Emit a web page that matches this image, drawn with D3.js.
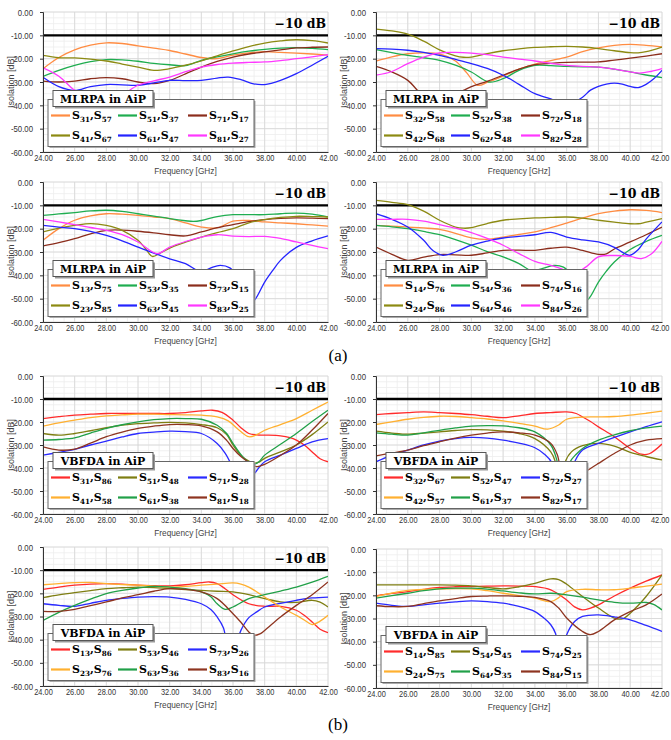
<!DOCTYPE html>
<html><head><meta charset="utf-8">
<script src="https://cdn.jsdelivr.net/npm/d3@7"></script>
<style>body{margin:0;background:#fff}</style>
</head><body><svg id="c" width="671" height="740"></svg>
<script>
// ---------- data ----------
const freqTicks = [24,26,28,30,32,34,36,38,40,42];
const isoTicks = [0,-10,-20,-30,-40,-50,-60];
const limitDb = -10;

const mlrpaColors = ["#ff8c42","#1fad50","#8b2d1c","#8c8a12","#2424ff","#ff38ff"];
const vbfdaColors = ["#ff2b2b","#7e7e12","#2a2aff","#ffb030","#21a048","#8e3420"];

// Panel 1 (MLRPA)
const p1Labels = [["31","57"],["51","37"],["71","17"],["41","67"],["61","47"],["81","27"]];
const p1Orange = [[24,-24.3],[25,-19.5],[26,-16.2],[27,-14.2],[28,-13.2],[29,-13.5],[30,-14.5],[31,-15.5],[32,-16.5],[33,-18],[34,-19.5],[35,-20],[36,-18.5],[37,-17.5],[38,-17],[39,-17.3],[40,-17.6],[41,-18],[42,-18.5]];
const p1Green = [[24,-27.6],[25,-25],[26,-22.9],[27,-21.3],[28,-20.4],[29,-20.5],[30,-21.1],[31,-22],[32,-22.6],[33,-23],[34,-20.7],[35,-19.2],[36,-17.9],[37,-16.8],[38,-16],[39,-15.5],[40,-15.3],[41,-15.6],[42,-16.1]];
const p1Brown = [[24,-29.6],[25,-30],[26,-29.6],[27,-28.6],[28,-28.1],[29,-28.6],[30,-30],[31,-30.7],[32,-29.3],[33,-26.5],[34,-23.6],[35,-21.2],[36,-19.3],[37,-18],[38,-17.1],[39,-16.2],[40,-15.4],[41,-15.1],[42,-15]];
const p1Olive = [[24,-18.6],[25,-19.6],[26,-19.7],[27,-20.2],[28,-21],[29,-22.3],[30,-23.6],[31,-25],[32,-24.3],[33,-22.8],[34,-21],[35,-18.8],[36,-16.7],[37,-14.8],[38,-13.3],[39,-12.4],[40,-11.9],[41,-12.3],[42,-13.3]];
const p1Blue = [[24,-28],[25,-32],[26,-33.6],[27,-32],[28,-31.1],[29,-31.2],[30,-31.4],[31,-30.4],[32,-29.3],[33,-29.4],[34,-29.3],[35,-28.3],[35.7,-27.9],[36.5,-29],[37.3,-30.8],[38,-31.1],[39,-29.3],[40,-26.4],[41,-22.8],[42,-19]];
const p1Pink = [[24,-23.9],[25,-27.5],[26,-33.6],[27,-37.5],[28,-38],[29,-35.5],[30,-31.4],[31,-29.5],[32,-27.9],[33,-25.6],[34,-23.6],[35,-22.5],[36,-21.9],[37,-21.6],[38,-21.4],[39,-20.8],[40,-20],[41,-19.2],[42,-18.3]];

// Panel 2 (MLRPA)
const p2Labels = [["32","58"],["52","38"],["72","18"],["42","68"],["62","48"],["82","28"]];
const p2Orange = [[24,-21],[25,-19.2],[26,-17.9],[27,-17.5],[28,-18],[29,-21],[29.7,-26],[30.4,-31.4],[31,-30.2],[32,-27.5],[33,-24.5],[34,-22.3],[35,-20.8],[36,-19.3],[37,-17],[38,-15.4],[39,-14.3],[40,-13.9],[41,-14.3],[42,-15]];
const p2Green = [[24,-16.1],[25,-17.4],[26,-18.6],[27,-19.6],[28,-20.7],[29,-22.8],[30,-25.7],[31.1,-30],[32,-28.6],[33,-25],[34,-22.9],[35,-23],[36,-23.3],[37,-23.5],[38,-23.6],[39,-24.5],[40,-25.7],[41,-27],[42,-28.1]];
const p2Brown = [[24,-23.3],[25,-25.7],[26,-29.3],[27,-36],[28,-38],[29,-35],[29.5,-33.6],[30,-32],[31,-29.7],[32,-27.1],[33,-24.5],[34,-22.6],[35,-22],[36,-21.6],[37,-21.5],[38,-21.4],[39,-20.6],[40,-19.8],[41,-18.9],[42,-17.9]];
const p2Olive = [[24,-7.3],[25,-8.1],[26,-9.5],[27,-12.5],[28,-16.2],[29,-18.8],[29.5,-19.4],[30,-19.3],[31,-17.8],[32,-16.6],[33,-15.8],[34,-15.2],[35,-14.9],[36,-14.7],[37,-15],[38,-15.7],[39,-16.6],[40,-17.4],[40.5,-17.5],[41,-17],[42,-15]];
const p2Blue = [[24,-15.7],[25,-15.9],[26,-16.4],[27,-17.3],[28,-18.6],[29,-20.3],[30,-22.1],[31,-24.2],[32,-27.1],[33,-31],[34,-35],[35,-37.2],[35.6,-38.8],[36.3,-39],[37,-36.5],[37.5,-33.5],[38,-31.9],[38.5,-30.9],[39,-30.5],[39.5,-30.9],[40,-31.9],[40.5,-32.4],[41,-31],[41.5,-28.5],[42,-25]];
const p2Pink = [[24,-27.1],[25,-25.5],[26,-22.1],[27,-19.3],[28,-17.5],[29,-17.3],[30,-17.6],[31,-18.3],[32,-19.3],[33,-20.2],[34,-21],[35,-22],[36,-22.9],[37,-23.3],[38,-23.6],[39,-24.5],[40,-25.7],[40.6,-26.2],[41.3,-25.5],[42,-24.3]];

// Panel 3 (MLRPA)
const p3Labels = [["13","75"],["53","35"],["73","15"],["23","85"],["63","45"],["83","25"]];
const p3Orange = [[24,-25],[25,-20],[26,-16.4],[27,-14.5],[28,-13.6],[29,-13.8],[30,-14.3],[31,-15],[32,-15.7],[33,-17.5],[34,-19.3],[35,-19.7],[36,-16.8],[37,-16.5],[38,-17.1],[39,-17.5],[40,-17.9],[41,-18.4],[42,-18.9]];
const p3Green = [[24,-14.3],[25,-13.7],[26,-13.1],[27,-12.4],[28,-12.1],[29,-12.6],[30,-13.6],[31,-14.6],[32,-15.7],[33,-16.6],[33.5,-16.9],[34,-16.5],[35,-14.8],[36,-14],[37,-14],[38,-14],[39,-13.6],[40,-13.3],[41,-13.8],[42,-15]];
const p3Brown = [[24,-27.4],[25,-26],[26,-24.3],[27,-22.2],[28,-20.7],[29,-20.6],[30,-21.1],[31,-21.8],[32,-22.6],[33,-23.1],[34,-21.4],[35,-19.6],[36,-18.3],[37,-17],[38,-16.1],[39,-15.6],[40,-15.4],[41,-15.5],[42,-15.7]];
const p3Olive = [[24,-21.4],[25,-19.8],[26,-18.6],[27,-17.8],[28,-18.6],[29,-20.7],[30,-25],[30.5,-28.8],[30.9,-31.9],[31.4,-30.5],[32,-28.3],[33,-25.8],[34,-23.6],[35,-21.7],[36,-20],[37,-17.5],[38,-16.1],[39,-15.2],[40,-14.7],[41,-14.8],[42,-15]];
const p3Blue = [[24,-18.6],[25,-19.3],[26,-20],[27,-21.2],[28,-22.9],[29,-25.2],[30,-27.9],[31,-30.5],[32,-32.9],[33,-35],[34,-38.5],[34.6,-36.8],[35.2,-35.7],[35.8,-36.8],[36.2,-40],[36.7,-47],[37.1,-52],[37.4,-50.3],[38,-42.9],[38.5,-38],[39,-33.6],[40,-28],[41,-25.2],[42,-23.1]];
const p3Pink = [[24,-16],[25,-17.1],[26,-18.3],[27,-19.5],[28,-20.7],[29,-22.6],[30,-25.7],[31.2,-30.7],[32,-27.9],[33,-25.5],[34,-23.6],[35,-22.6],[36,-23.2],[37,-23.4],[38,-23.3],[39,-24.2],[40,-25.7],[41,-27.2],[42,-28.6]];

// Panel 4 (MLRPA)
const p4Labels = [["14","76"],["54","36"],["74","16"],["24","86"],["64","46"],["84","26"]];
const p4Orange = [[24,-18.6],[25,-18.9],[26,-19.3],[27,-19.7],[28,-20.3],[29,-22],[30,-23.9],[31,-24.6],[32,-23.6],[33,-22.5],[34,-21.4],[35,-19.6],[36,-17.6],[37,-15.5],[38,-13.6],[39,-12.5],[40,-11.9],[41,-12.2],[42,-13.1]];
const p4Green = [[24,-18.6],[25,-19.2],[26,-20],[27,-21.2],[28,-22.6],[29,-24.7],[30,-27.1],[31,-29.8],[32,-32.1],[33,-35],[33.8,-38],[34.5,-37],[35.2,-35.7],[35.8,-36.5],[36.3,-40],[36.8,-47],[37.2,-51],[37.5,-49],[38,-42.9],[38.5,-38.2],[39,-34.3],[40,-28.9],[41,-25.5],[42,-22.9]];
const p4Brown = [[24,-27.9],[25,-31],[26,-33.6],[27,-32.2],[28,-31.1],[29,-31.2],[30,-31.4],[31,-30.4],[32,-29.3],[33,-29.2],[34,-29.3],[35,-28.4],[36,-27.9],[37,-29.3],[38,-31],[38.5,-30.8],[39,-28.7],[40,-25.7],[41,-22.6],[42,-19.3]];
const p4Olive = [[24,-7.9],[25,-8.7],[26,-9.7],[27,-12.5],[28,-16.4],[29,-19.3],[29.5,-19.8],[30,-19.6],[31,-17.8],[32,-16.4],[33,-15.8],[34,-15.4],[35,-15.2],[36,-15],[37,-15.5],[38,-16.4],[39,-17.2],[40,-17.9],[40.5,-17.9],[41,-17.2],[42,-15.7]];
const p4Blue = [[24,-13.6],[25,-16],[26,-19.3],[27,-25],[27.6,-29.5],[28.2,-31.4],[29,-30],[30,-27.1],[31,-25.3],[32,-24],[33,-23.3],[34,-22.6],[35,-21.6],[36,-23.6],[37,-24.8],[38,-25.7],[39,-28],[39.6,-30.5],[40,-31.4],[40.5,-29],[41,-24.5],[42,-17.1]];
const p4Pink = [[24,-16],[25,-16],[26,-16],[27,-16.8],[28,-18.3],[29,-19.8],[30,-21.7],[31,-24.2],[32,-27.1],[33,-30.7],[34,-34],[35,-35.7],[35.8,-37.5],[36.5,-39],[37.2,-36.5],[38,-32.1],[39,-31.5],[40,-31.9],[40.7,-32.8],[41.3,-31],[42,-25.4]];

// Panel 5 (VBFDA)
const p5Labels = [["31","86"],["51","48"],["71","28"],["41","58"],["61","38"],["81","18"]];
const p5Red = [[24,-18.5],[25,-17.7],[26,-17],[27,-16.6],[28,-16.3],[29,-16.3],[30,-16.3],[31,-16.3],[32,-16.3],[33,-15.9],[34,-15.2],[34.7,-14.9],[35.3,-15.8],[36,-19.2],[36.5,-22.5],[37,-25],[37.5,-25.6],[38,-25.7],[39,-26],[39.6,-26.8],[40,-27.9],[40.5,-30],[41,-33],[41.5,-36],[42,-37.3]];
const p5Olive = [[24,-25],[25,-25.7],[26,-25],[27,-23.8],[28,-22.5],[29,-21.4],[30,-20.7],[31,-20.4],[32,-20.2],[33,-20.4],[34,-21.1],[35,-22.5],[35.6,-25.5],[36,-30],[36.5,-34.5],[37,-37],[37.3,-38],[37.7,-37.2],[38,-35.8],[39,-33],[40,-30],[41,-25.5],[42,-20]];
const p5Blue = [[24,-34.4],[25,-33.2],[26,-31.9],[27,-30],[28,-28.3],[29,-26.5],[30,-25],[31,-24.4],[32,-24],[33,-24.2],[34,-25],[35,-29.3],[35.5,-33.5],[36,-40],[36.5,-48],[37,-46],[37.4,-42],[38,-37.3],[39,-34.4],[40,-31.5],[41,-28.6],[42,-27.2]];
const p5Yellow = [[24,-21.8],[25,-20.4],[26,-19.2],[27,-18.1],[28,-17.3],[29,-16.9],[30,-16.6],[31,-16.6],[32,-16.8],[33,-16.9],[34,-17],[35,-17.8],[35.7,-19.5],[36.3,-23],[37,-26.4],[37.5,-25.5],[38,-23.6],[39,-21.1],[40,-18.5],[41,-14.9],[42,-11.3]];
const p5Green = [[24,-27.9],[25,-27.6],[26,-26.9],[27,-24.8],[28,-22.8],[29,-21.2],[30,-19.9],[31,-19],[32,-18.5],[33,-18.5],[34,-18.8],[35,-21.4],[35.6,-25],[36,-29.3],[36.6,-35],[37.2,-38.4],[37.6,-37.5],[38,-34.4],[39,-29.7],[40,-25],[41,-19.8],[42,-14.9]];
const p5Brown = [[24,-30.8],[25,-32.2],[26,-31.8],[27,-29.2],[28,-26.4],[29,-24.4],[30,-22.8],[31,-21.8],[32,-21.1],[33,-21.1],[34,-21.7],[35,-24.3],[35.6,-28],[36,-31.5],[36.5,-35],[37,-37.5],[37.5,-39.4],[38,-38.4],[39,-34.5],[40,-30],[41,-23.5],[42,-16.3]];

// Panel 6 (VBFDA)
const p6Labels = [["32","67"],["52","47"],["72","27"],["42","57"],["61","37"],["82","17"]];
const p6Red = [[24,-16.8],[25,-16.3],[26,-15.9],[27,-15.6],[28,-15.9],[29,-16.3],[30,-16.8],[31,-17.5],[32,-18.1],[33,-17.3],[34,-16.3],[35,-15.9],[36,-15.6],[36.6,-16.3],[37,-17.8],[37.5,-19.8],[38,-22.1],[39,-26.4],[40,-31.5],[40.7,-34],[41.2,-33.8],[42,-29.6]];
const p6Olive = [[24,-24],[25,-24.8],[26,-25.3],[27,-24.8],[28,-24.3],[29,-23.7],[30,-23.3],[31,-23.4],[32,-24],[33,-25],[34,-27.2],[35,-33],[35.3,-37.5],[35.6,-48],[35.9,-37.5],[36.3,-33],[37,-30.3],[38,-29.3],[39,-30.5],[40,-33.2],[41,-35],[42,-36.5]];
const p6Blue = [[24,-37.3],[25,-34.4],[26,-32.2],[27,-30],[28,-28.3],[29,-27.2],[30,-26.7],[31,-27],[32,-27.9],[33,-29.2],[34,-31.2],[34.6,-34],[35.1,-38],[35.6,-50],[36.1,-45],[36.5,-37.3],[37,-32.2],[38,-29.3],[39,-26.7],[40,-24.3],[41,-22],[42,-19.9]];
const p6Yellow = [[24,-21.1],[25,-19.9],[26,-18.8],[27,-18],[28,-17.5],[29,-17.6],[30,-18.1],[31,-18.7],[32,-19.5],[33,-20.6],[34,-21.8],[34.8,-23.1],[35.5,-21.3],[36,-18.8],[37,-17.9],[38,-17.8],[39,-17.6],[40,-17],[41,-16.2],[42,-15.3]];
const p6Green = [[24,-24.7],[25,-25.3],[26,-25.7],[27,-24.7],[28,-23.6],[29,-22.6],[30,-21.8],[31,-21.6],[32,-21.7],[33,-22.5],[34,-24.3],[35,-30],[35.4,-37],[35.8,-48],[36.2,-37.5],[36.6,-34],[37,-31.5],[38,-27.9],[39,-25.6],[40,-23.8],[41,-22.6],[42,-21.8]];
const p6Brown = [[24,-34.7],[25,-33.5],[26,-32.2],[27,-30.3],[28,-28.6],[29,-27],[30,-25.7],[31,-24.8],[32,-24.3],[33,-24.7],[34,-25.7],[35,-29.3],[35.4,-34],[35.8,-45],[36.3,-48],[36.9,-43],[37.5,-40.2],[38,-38],[39,-33.7],[40,-30],[41,-27.9],[42,-27.2]];

// Panel 7 (VBFDA)
const p7Labels = [["13","86"],["53","46"],["73","26"],["23","76"],["63","36"],["83","16"]];
const p7Red = [[24,-18.3],[25,-17.3],[26,-16.5],[27,-16],[28,-15.8],[29,-16],[30,-16.5],[31,-16.7],[32,-16.8],[33,-16.3],[34,-15.4],[34.5,-15.1],[35,-15.8],[35.5,-18],[36,-20.6],[37,-24.5],[38,-25.6],[39,-25.6],[40,-27.3],[40.5,-29.5],[41,-32.4],[41.5,-35.5],[42,-37]];
const p7Olive = [[24,-21.9],[25,-20.7],[26,-19.7],[27,-18.8],[28,-18],[29,-17.6],[30,-17.3],[31,-17.5],[32,-18],[33,-18.4],[34,-18.7],[35,-19.1],[36,-19.4],[37,-20.6],[38,-22.3],[39,-23.7],[40,-23.9],[41,-23],[41.5,-23.8],[42,-25.9]];
const p7Blue = [[24,-24.5],[25,-25.2],[26,-25.6],[27,-24.3],[28,-23],[29,-22.2],[30,-21.6],[31,-21.4],[32,-21.6],[33,-22.6],[34,-24.5],[34.6,-27],[35,-30.2],[35.4,-35],[35.8,-48],[36.2,-42],[36.5,-36],[37,-30.5],[37.5,-28],[38,-25.9],[39,-24.3],[40,-23],[41,-22],[42,-21.6]];
const p7Yellow = [[24,-16.3],[25,-15.8],[26,-15.4],[27,-15.3],[28,-15.8],[29,-16.2],[30,-16.5],[31,-16.9],[32,-17.3],[33,-17],[34,-16.5],[35,-16],[36,-15.5],[36.5,-16],[37,-17.3],[38,-21.6],[39,-25.9],[40,-29.5],[40.5,-31.5],[41,-33.5],[41.5,-32],[42,-29.5]];
const p7Green = [[24,-31.7],[25,-28.2],[26,-25.2],[27,-22.5],[28,-20.1],[29,-18.7],[30,-17.7],[31,-17],[32,-17.3],[33,-18],[34,-19.4],[34.6,-21.5],[35,-24.5],[35.5,-26.9],[36,-25.9],[37,-22.3],[38,-20.6],[39,-19],[40,-17.3],[41,-15.2],[42,-12.7]];
const p7Brown = [[24,-27.8],[25,-27.8],[26,-26.9],[27,-25.3],[28,-23.7],[29,-22],[30,-20.6],[31,-19.1],[32,-18],[33,-18.3],[34,-19.4],[35,-22.3],[36,-28.8],[36.5,-32.5],[37,-36.7],[37.3,-38.1],[37.7,-37.5],[38,-36],[39,-30.2],[40,-25.2],[41,-20.6],[42,-15.1]];

// Panel 8 (VBFDA)
const p8Labels = [["14","85"],["54","45"],["74","25"],["24","75"],["64","35"],["84","15"]];
const p8Red = [[24,-20.2],[25,-19.2],[26,-18.4],[27,-17.4],[28,-16.6],[29,-16.3],[30,-16.2],[31,-16],[32,-15.9],[33,-16],[34,-16.2],[35,-17.6],[36,-22],[36.5,-25],[37,-26.3],[37.5,-25.5],[38,-24.1],[39,-20.3],[40,-16.9],[41,-13.9],[42,-11.2]];
const p8Olive = [[24,-15.5],[26,-15.5],[28,-15.5],[29,-15.6],[30,-15.9],[31,-16.6],[32,-17.2],[33,-16.3],[34,-14.8],[35,-12.9],[35.5,-13.2],[36,-15.2],[37,-20.5],[38,-25.5],[39,-29.8],[39.5,-30.2],[40,-27.7],[41,-20.5],[42,-11.2]];
const p8Blue = [[24,-23.4],[25,-24.3],[26,-24.8],[27,-24.1],[28,-23.4],[29,-22.8],[30,-22.4],[31,-22.7],[32,-23.4],[33,-24.8],[34,-27],[34.6,-30],[35,-32.7],[35.3,-36.5],[35.6,-48],[36,-37],[36.5,-31.3],[37,-29.1],[38,-28.4],[39,-29.3],[40,-30.6],[41,-33],[42,-35.6]];
const p8Yellow = [[24,-20.5],[25,-19],[26,-17.9],[27,-17.4],[28,-17.2],[29,-17.1],[30,-17.2],[31,-18],[32,-19.1],[33,-20.1],[34,-21.2],[35,-22.7],[35.5,-21],[36,-18.4],[37,-17.4],[38,-17.6],[39,-17.6],[40,-16.9],[41,-16],[42,-15.2]];
const p8Green = [[24,-21.2],[25,-20.1],[26,-19.1],[27,-18],[28,-17.2],[29,-16.9],[30,-16.9],[31,-17.3],[32,-18.1],[33,-18.9],[34,-19.4],[35,-19.1],[36,-19.8],[37,-20.8],[38,-22],[39,-23],[40,-23.4],[41,-23.1],[41.5,-24],[42,-26.3]];
const p8Brown = [[24,-24.5],[25,-24.9],[26,-24.8],[27,-23.6],[28,-22.4],[29,-21.4],[30,-20.5],[31,-20.3],[32,-20.2],[33,-20.4],[34,-20.9],[35,-22.7],[35.5,-25.5],[36,-29.8],[37,-35.6],[37.5,-37],[38,-35.6],[39,-30.6],[40,-27],[41,-24.1],[42,-19.4]];

const panels = [
  {series:[p1Orange,p1Green,p1Brown,p1Olive,p1Blue,p1Pink], labels:p1Labels, colors:mlrpaColors, title:"MLRPA in AiP", limit:true},
  {series:[p2Orange,p2Green,p2Brown,p2Olive,p2Blue,p2Pink], labels:p2Labels, colors:mlrpaColors, title:"MLRPA in AiP", limit:true},
  {series:[p3Orange,p3Green,p3Brown,p3Olive,p3Blue,p3Pink], labels:p3Labels, colors:mlrpaColors, title:"MLRPA in AiP", limit:true},
  {series:[p4Orange,p4Green,p4Brown,p4Olive,p4Blue,p4Pink], labels:p4Labels, colors:mlrpaColors, title:"MLRPA in AiP", limit:true},
  {series:[p5Red,p5Olive,p5Blue,p5Yellow,p5Green,p5Brown], labels:p5Labels, colors:vbfdaColors, title:"VBFDA in AiP", limit:true},
  {series:[p6Red,p6Olive,p6Blue,p6Yellow,p6Green,p6Brown], labels:p6Labels, colors:vbfdaColors, title:"VBFDA in AiP", limit:true},
  {series:[p7Red,p7Olive,p7Blue,p7Yellow,p7Green,p7Brown], labels:p7Labels, colors:vbfdaColors, title:"VBFDA in AiP", limit:true},
  {series:[p8Red,p8Olive,p8Blue,p8Yellow,p8Green,p8Brown], labels:p8Labels, colors:vbfdaColors, title:"VBFDA in AiP", limit:false}
];

// ---------- layout ----------
const boxes = [
  {x0:43, x1:328, y0:12, y1:152},
  {x0:376,x1:662, y0:12, y1:152},
  {x0:43, x1:328, y0:182,y1:322},
  {x0:376,x1:662, y0:182,y1:322},
  {x0:43, x1:328, y0:376,y1:514},
  {x0:376,x1:662, y0:376,y1:514},
  {x0:43, x1:328, y0:547,y1:686},
  {x0:376,x1:662, y0:549,y1:688}
];
const captions = [{t:"(a)", y:361},{t:"(b)", y:730}];

const svg = d3.select("#c");
svg.append("rect").attr("width",671).attr("height",740).attr("fill","#fff");

const sansFont = "'Liberation Sans', Arial, sans-serif";
const serifFont = "'DejaVu Serif', serif";

panels.forEach((p, i) => {
  const b = boxes[i];
  const xs = d3.scaleLinear().domain([24,42]).range([b.x0,b.x1]);
  const ys = d3.scaleLinear().domain([0,-60]).range([b.y0,b.y1]);
  const g = svg.append("g");

  // minor grid
  const minorX = d3.range(24, 42.001, 2/3);
  const minorY = d3.range(0, -60.001, -2.5);
  g.append("g").selectAll("line").data(minorX).join("line")
    .attr("x1",d=>xs(d)).attr("x2",d=>xs(d)).attr("y1",b.y0).attr("y2",b.y1)
    .attr("stroke","#eeeeee").attr("stroke-width",0.8);
  g.append("g").selectAll("line").data(minorY).join("line")
    .attr("y1",d=>ys(d)).attr("y2",d=>ys(d)).attr("x1",b.x0).attr("x2",b.x1)
    .attr("stroke","#eeeeee").attr("stroke-width",0.8);
  // major grid
  g.append("g").selectAll("line").data(freqTicks).join("line")
    .attr("x1",d=>xs(d)).attr("x2",d=>xs(d)).attr("y1",b.y0).attr("y2",b.y1)
    .attr("stroke","#d6d6d6").attr("stroke-width",0.8);
  g.append("g").selectAll("line").data(isoTicks).join("line")
    .attr("y1",d=>ys(d)).attr("y2",d=>ys(d)).attr("x1",b.x0).attr("x2",b.x1)
    .attr("stroke","#d6d6d6").attr("stroke-width",0.8);

  // clip
  const cid = "clip"+i;
  svg.append("clipPath").attr("id",cid).append("rect")
    .attr("x",b.x0).attr("y",b.y0).attr("width",b.x1-b.x0).attr("height",b.y1-b.y0);

  // limit line
  if (p.limit) {
    g.append("line").attr("x1",b.x0).attr("x2",b.x1)
      .attr("y1",ys(limitDb)).attr("y2",ys(limitDb))
      .attr("stroke","#000").attr("stroke-width",2.4);
  }

  // curves
  const line = d3.line().x(d=>xs(d[0])).y(d=>ys(d[1])).curve(d3.curveCatmullRom.alpha(0.5));
  const cg = g.append("g").attr("clip-path",`url(#${cid})`);
  p.series.forEach((s, k) => {
    cg.append("path").attr("d", line(s)).attr("fill","none")
      .attr("stroke", p.colors[k]).attr("stroke-width",1.3);
  });

  // legend
  const lx = b.x0 + 5, lw = 206, lh = 47;
  const ly = b.y1 - 5.5 - lh;
  const lg = g.append("g");
  lg.append("rect").attr("x",lx+1.5).attr("y",ly+1.5).attr("width",lw).attr("height",lh).attr("fill","#aaa");
  lg.append("rect").attr("x",lx).attr("y",ly).attr("width",lw).attr("height",lh)
    .attr("fill","#fff").attr("stroke","#666").attr("stroke-width",1);
  const tx = lx + 5, ty = ly - 9, tw = 100, th = 16;
  lg.append("rect").attr("x",tx+2).attr("y",ty+2).attr("width",tw).attr("height",th).attr("fill","#999");
  lg.append("rect").attr("x",tx).attr("y",ty).attr("width",tw).attr("height",th)
    .attr("fill","#fff").attr("stroke","#555").attr("stroke-width",1);
  lg.append("text").attr("x",tx+tw/2).attr("y",ty+12).attr("text-anchor","middle")
    .attr("font-family",serifFont).attr("font-weight","bold").attr("font-size",11)
    .attr("fill","#000").text(p.title);
  const colX = [0, 67, 137];
  p.labels.forEach((lab, k) => {
    const cx = lx + colX[k%3];
    const cy = ly + (k<3 ? 16 : 36);
    lg.append("line").attr("x1",cx+3).attr("x2",cx+22).attr("y1",cy).attr("y2",cy)
      .attr("stroke",p.colors[k]).attr("stroke-width",2.2);
    const t = lg.append("text").attr("x",cx+24).attr("y",cy+3.5)
      .attr("font-family",serifFont).attr("font-weight","bold").attr("font-size",11).attr("fill","#000");
    t.append("tspan").text("S");
    t.append("tspan").attr("font-size",7.2).attr("dy",2.6).text(lab[0]);
    t.append("tspan").attr("dy",-2.6).text(",S");
    t.append("tspan").attr("font-size",7.2).attr("dy",2.6).text(lab[1]);
  });

  // limit label
  if (p.limit) {
    g.append("text").attr("x",b.x1-2).attr("y",ys(limitDb)-7.5).attr("text-anchor","end")
      .attr("font-family",serifFont).attr("font-weight","bold").attr("font-size",12.5)
      .attr("fill","#000").text("\u221210 dB");
  }

  // axes
  const ay = g.append("g").attr("transform",`translate(${b.x0},0)`)
    .call(d3.axisLeft(ys).tickValues(isoTicks).tickSize(3).tickPadding(7).tickFormat(v=>v.toFixed(2)));
  const axb = g.append("g").attr("transform",`translate(0,${b.y1})`)
    .call(d3.axisBottom(xs).tickValues(freqTicks).tickSize(0).tickPadding(2).tickFormat(v=>v.toFixed(2)));
  [ay, axb].forEach(a => {
    a.select(".domain").attr("stroke","#333").attr("stroke-width",1);
    a.selectAll(".tick line").attr("stroke","#333");
    a.selectAll("text").attr("font-family",sansFont).attr("font-size",9.5).attr("fill","#333");
  });
  ay.selectAll(".tick line").attr("x2",-3);
  // narrow (condensed-looking) tick labels via horizontal scale
  ay.selectAll(".tick text").each(function(){
    const t = d3.select(this); const x0 = +t.attr("x");
    t.attr("x",0).attr("transform",`translate(${x0},0) scale(0.82,1)`);
  });
  axb.selectAll(".tick text").each(function(d){
    const t = d3.select(this);
    const w = this.getComputedTextLength()*0.78;
    const right = xs(d) + w/2;
    const shift = right > 669 ? 669-right : 0;
    t.attr("transform",`translate(${shift},0) scale(0.78,1)`);
  });

  g.append("text").attr("transform",`translate(${b.x0-32},${(b.y0+b.y1)/2}) rotate(-90)`)
    .attr("text-anchor","middle").attr("dy","0.35em")
    .attr("font-family",sansFont).attr("font-size",9).attr("fill","#444").text("Isolation [dB]");
  g.append("text").attr("transform",`translate(${(b.x0+b.x1)/2},${b.y1+22}) scale(0.92,1)`)
    .attr("text-anchor","middle")
    .attr("font-family",sansFont).attr("font-size",9).attr("fill","#444").text("Frequency [GHz]");
});

captions.forEach(c => {
  svg.append("text").attr("x",338).attr("y",c.y).attr("text-anchor","middle")
    .attr("font-family","'Liberation Serif', 'Times New Roman', serif").attr("font-size",17)
    .attr("fill","#000").text(c.t);
});
</script></body></html>
